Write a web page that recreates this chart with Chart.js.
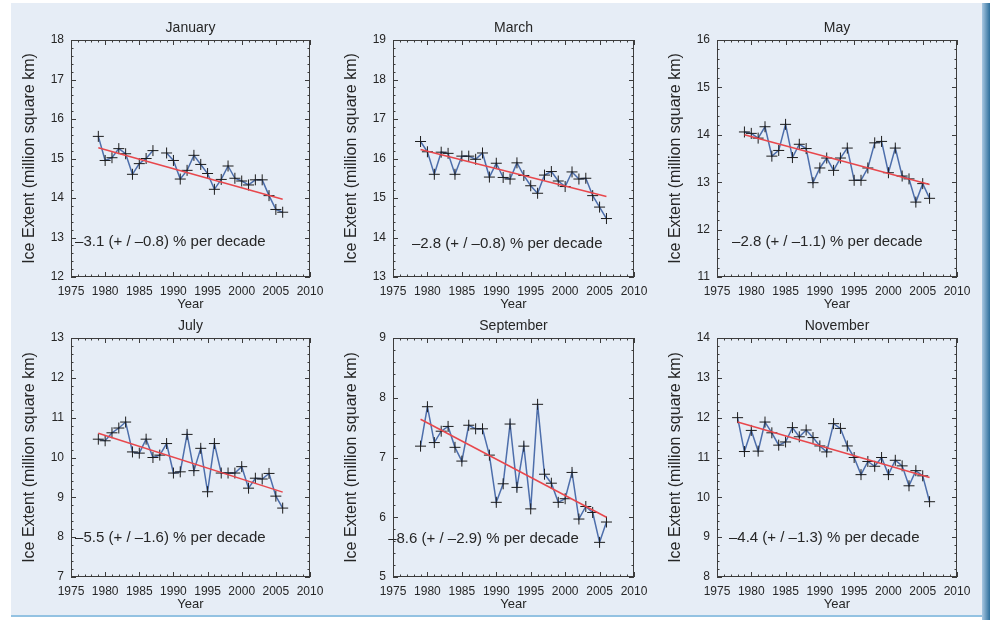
<!DOCTYPE html>
<html>
<head>
<meta charset="utf-8">
<script src="https://cdn.jsdelivr.net/npm/chart.js@4.4.1/dist/chart.umd.min.js"></script>
<style>
  html, body { margin: 0; padding: 0; width: 990px; height: 620px; overflow: hidden; background: #ffffff; }
  #sheet { position: absolute; left: 11px; top: 3px; width: 973px; height: 612px; background: #e6edf6; border-bottom: 2px solid #93c2e2; }
  #edge { position: absolute; left: 982px; top: 3px; width: 8px; height: 617px; background: linear-gradient(to right, #a9c8e2, #2c6e9b); }
  canvas { position: absolute; }
</style>
</head>
<body>
<div id="sheet"></div>
<div id="edge"></div>

<script>
// Monthly Arctic sea-ice extent (million square km), 1979-2006 (November from 1978)
const years = [1979, 1980, 1981, 1982, 1983, 1984, 1985, 1986, 1987, 1988, 1989, 1990, 1991, 1992,
               1993, 1994, 1995, 1996, 1997, 1998, 1999, 2000, 2001, 2002, 2003, 2004, 2005, 2006];
const yearsNov = [1978, 1979, 1980, 1981, 1982, 1983, 1984, 1985, 1986, 1987, 1988, 1989, 1990, 1991, 1992,
                  1993, 1994, 1995, 1996, 1997, 1998, 1999, 2000, 2001, 2002, 2003, 2004, 2005, 2006];

// January 1988 is missing from the record
const january   = [15.56, 14.95, 15.02, 15.25, 15.12, 14.60, 14.87, 15.00, 15.20, null, 15.14, 14.95, 14.48, 14.70,
                   15.08, 14.85, 14.62, 14.22, 14.47, 14.81, 14.50, 14.43, 14.33, 14.46, 14.46, 14.06, 13.71, 13.64];
const march     = [16.43, 16.17, 15.60, 16.16, 16.13, 15.60, 16.06, 16.06, 15.98, 16.14, 15.53, 15.88, 15.52, 15.48,
                   15.89, 15.57, 15.31, 15.12, 15.58, 15.67, 15.43, 15.29, 15.66, 15.48, 15.50, 15.06, 14.77, 14.48];
const may       = [14.06, 14.03, 13.93, 14.17, 13.55, 13.67, 14.22, 13.52, 13.80, 13.71, 12.99, 13.30, 13.51, 13.25,
                   13.51, 13.72, 13.04, 13.04, 13.30, 13.83, 13.86, 13.20, 13.72, 13.13, 13.07, 12.58, 12.97, 12.66];
const july      = [10.46, 10.42, 10.62, 10.74, 10.89, 10.14, 10.11, 10.46, 10.00, 10.06, 10.35, 9.61, 9.64, 10.58,
                   9.67, 10.23, 9.14, 10.35, 9.61, 9.61, 9.61, 9.77, 9.23, 9.48, 9.46, 9.60, 9.03, 8.73];
const september = [7.19, 7.85, 7.25, 7.44, 7.52, 7.17, 6.94, 7.54, 7.48, 7.48, 7.04, 6.25, 6.56, 7.56,
                   6.50, 7.19, 6.14, 7.89, 6.72, 6.57, 6.25, 6.31, 6.75, 5.97, 6.18, 6.08, 5.58, 5.92];
const november  = [12.00, 11.15, 11.68, 11.16, 11.89, 11.62, 11.31, 11.39, 11.75, 11.52, 11.69, 11.50, 11.29, 11.14,
                   11.85, 11.73, 11.29, 11.00, 10.57, 10.90, 10.78, 11.00, 10.57, 10.93, 10.79, 10.29, 10.67, 10.54, 9.89];

// Linear trend end points [start, end]
const trendYears    = [1979, 2006];
const trendYearsNov = [1978, 2006];
const trendJan = [15.27, 13.97];
const trendMar = [16.23, 15.04];
const trendMay = [14.00, 12.95];
const trendJul = [10.61, 9.13];
const trendSep = [7.64, 6.00];
const trendNov = [11.89, 10.50];

// Trend statements and y-axis ranges
const notes = ['–3.1 (+ / –0.8) % per decade', '–2.8 (+ / –0.8) % per decade', '–2.8 (+ / –1.1) % per decade',
               '–5.5 (+ / –1.6) % per decade', '–8.6 (+ / –2.9) % per decade', '–4.4 (+ / –1.3) % per decade'];
const titles = ['January', 'March', 'May', 'July', 'September', 'November'];
const yRanges = [[12, 18], [13, 19], [11, 16], [7, 13], [5, 9], [8, 14]];
const xTicks = [1975, 2010];

Chart.defaults.font.family = "'Liberation Sans', Arial, Helvetica, sans-serif";
Chart.defaults.color = '#262626';

const INK = '#262626';
const LEFT = 70, TOP = 40, BOTTOM = 40, RIGHT = 20;

// Box frame with IDL-style inward ticks on all four sides, plus the trend statement
const frameTicks = {
  id: 'frameTicks',
  afterDatasetsDraw(chart, args, opts) {
    const { ctx, chartArea: a, scales: { x, y } } = chart;
    ctx.save();
    ctx.strokeStyle = '#3c3c3c';
    ctx.lineWidth = 1;
    ctx.strokeRect(a.left + 0.5, a.top + 0.5, a.right - a.left - 1, a.bottom - a.top - 1);
    ctx.beginPath();
    for (let yr = x.min; yr <= x.max; yr++) {
      const px = Math.round(x.getPixelForValue(yr)) + 0.5;
      const len = (yr % 5 === 0) ? 5 : 2.5;
      ctx.moveTo(px, a.bottom); ctx.lineTo(px, a.bottom - len);
      ctx.moveTo(px, a.top); ctx.lineTo(px, a.top + len);
    }
    const steps = Math.round((y.max - y.min) * 5);
    for (let i = 0; i <= steps; i++) {
      const py = Math.round(y.getPixelForValue(y.min + i / 5)) + 0.5;
      const len = (i % 5 === 0) ? 5 : 2.5;
      ctx.moveTo(a.left, py); ctx.lineTo(a.left + len, py);
      ctx.moveTo(a.right, py); ctx.lineTo(a.right - len, py);
    }
    ctx.stroke();

    ctx.fillStyle = INK;
    ctx.font = "15px 'Liberation Sans', Arial, Helvetica, sans-serif";
    ctx.textAlign = 'left';
    ctx.textBaseline = 'middle';
    ctx.fillText(opts.note, x.getPixelForValue(opts.at[0]), y.getPixelForValue(opts.at[1]));
    ctx.restore();
  }
};

function panel(plotLeft, plotTop, plotW, plotH, idx, yrs, values, tYears, tVals, noteAt) {
  const canvas = document.createElement('canvas');
  canvas.width = plotW + LEFT + RIGHT;
  canvas.height = plotH + TOP + BOTTOM;
  canvas.style.left = (plotLeft - LEFT) + 'px';
  canvas.style.top = (plotTop - TOP) + 'px';
  document.body.appendChild(canvas);

  const [yMin, yMax] = yRanges[idx];
  return new Chart(canvas, {
    type: 'line',
    data: {
      datasets: [
        {
          data: tYears.map((t, i) => ({ x: t, y: tVals[i] })),
          borderColor: '#e8474c', borderWidth: 1.5, pointRadius: 0, tension: 0,
          xAxisID: 'x', yAxisID: 'y'
        },
        {
          data: yrs.map((t, i) => ({ x: t, y: values[i] })),
          borderColor: '#4d6eab', borderWidth: 1.5, tension: 0, spanGaps: false,
          pointStyle: 'cross', pointRadius: 5.5, pointBorderColor: '#1c1c1c', pointBorderWidth: 1,
          xAxisID: 'x', yAxisID: 'y'
        }
      ]
    },
    options: {
      responsive: false,
      animation: false,
      events: [],
      layout: { padding: { left: 0, top: 0, bottom: 0, right: RIGHT } },
      plugins: {
        legend: { display: false },
        tooltip: { enabled: false },
        title: { display: false },
        frameTicks: { note: notes[idx], at: noteAt }
      },
      scales: {
        x: {
          type: 'linear', position: 'bottom', min: xTicks[0], max: xTicks[1],
          afterFit(s) { s.height = BOTTOM; s.paddingLeft = 0; s.paddingRight = 0; },
          grid: { display: false, drawTicks: false },
          border: { display: false },
          ticks: { stepSize: 5, padding: 7, color: INK, font: { size: 12 }, maxRotation: 0, autoSkip: false,
                   callback: v => String(v) },
          title: { display: true, text: 'Year', color: INK, font: { size: 13 }, padding: { top: 0, bottom: 5 } }
        },
        xTop: {
          type: 'linear', position: 'top', min: xTicks[0], max: xTicks[1],
          afterFit(s) { s.height = TOP; s.paddingLeft = 0; s.paddingRight = 0; },
          grid: { display: false, drawTicks: false },
          border: { display: false },
          ticks: { display: false },
          title: { display: true, text: titles[idx], color: INK, font: { size: 14 }, padding: { top: 20, bottom: 0 } }
        },
        y: {
          type: 'linear', position: 'left', min: yMin, max: yMax,
          afterFit(s) { s.width = LEFT; s.paddingTop = 0; s.paddingBottom = 0; },
          grid: { display: false, drawTicks: false },
          border: { display: false },
          ticks: { stepSize: 1, padding: 7, color: INK, font: { size: 12 }, callback: v => String(v) },
          title: { display: true, text: 'Ice Extent (million square km)', color: INK, font: { size: 16 },
                   padding: { top: 19, bottom: 0 } }
        }
      }
    },
    plugins: [frameTicks]
  });
}

panel(71, 40, 239, 237, 0, years, january, trendYears, trendJan, [1975.6, 12.9]);
panel(393, 40, 241, 237, 1, years, march, trendYears, trendMar, [1977.75, 13.85]);
panel(717, 40, 240, 237, 2, years, may, trendYears, trendMay, [1977.2, 11.75]);
panel(71, 338, 239, 239, 3, years, july, trendYears, trendJul, [1975.6, 7.98]);
panel(393, 338, 241, 239, 4, years, september, trendYears, trendSep, [1974.3, 5.63]);
panel(717, 338, 240, 239, 5, yearsNov, november, trendYearsNov, trendNov, [1976.75, 8.98]);
</script>
</body>
</html>
